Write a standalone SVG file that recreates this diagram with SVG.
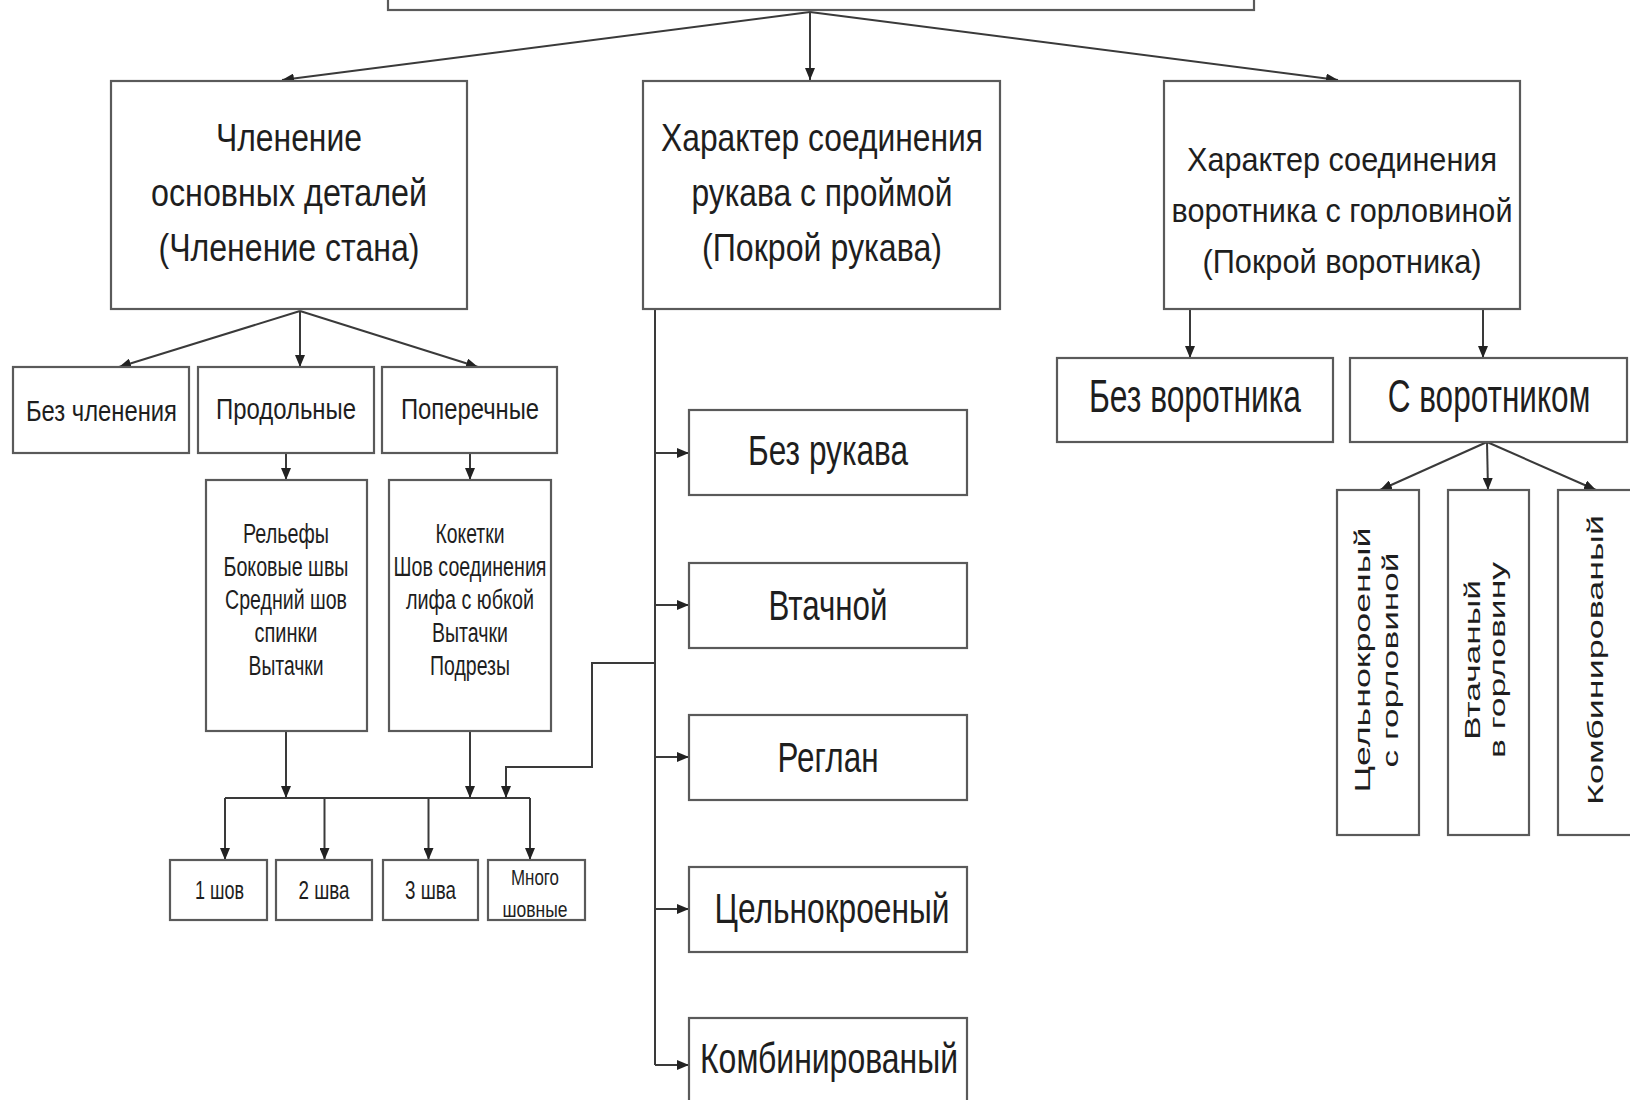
<svg xmlns="http://www.w3.org/2000/svg" width="1630" height="1100" viewBox="0 0 1630 1100">
<defs>
<marker id="ah" markerWidth="12" markerHeight="10" refX="12" refY="5" orient="auto" markerUnits="userSpaceOnUse"><path d="M0,0 L12,5 L0,10 z" fill="#222"/></marker>
<style>
.b{fill:#fff;stroke:#5a5a5a;stroke-width:2.2}
.c{fill:none;stroke:#3a3a3a;stroke-width:2}
.a{marker-end:url(#ah)}
text{font-family:"Liberation Sans",Arial,sans-serif;fill:#1e1e1e;text-anchor:middle}
.t1{font-size:39px}
.t3{font-size:34px}
.t2{font-size:30px}
.s{font-size:27px}
.m{font-size:25px}
.mm{font-size:22px}
.sl{font-size:43px}
.co{font-size:46px}
.r{font-size:22px}
</style>
</defs>
<rect width="1630" height="1100" fill="#fff"/>

<g id="connectors">
<path class="c a" d="M810,12 L282,80"/>
<path class="c a" d="M810,12 L810,80"/>
<path class="c a" d="M810,12 L1338,80"/>
<path class="c a" d="M300,311 L119,367"/>
<path class="c a" d="M300,311 L300,367"/>
<path class="c a" d="M300,311 L478,367"/>
<path class="c a" d="M286,453 L286,480"/>
<path class="c a" d="M470,453 L470,480"/>
<path class="c a" d="M286,731 L286,798"/>
<path class="c a" d="M470,731 L470,798"/>
<path class="c" d="M225,798 L530,798"/>
<path class="c a" d="M225,798 L225,860"/>
<path class="c a" d="M324.5,798 L324.5,860"/>
<path class="c a" d="M428.5,798 L428.5,860"/>
<path class="c a" d="M530,798 L530,860"/>
<path class="c" d="M655,309 L655,1065"/>
<path class="c a" d="M655,453 L689,453"/>
<path class="c a" d="M655,605 L689,605"/>
<path class="c a" d="M655,757 L689,757"/>
<path class="c a" d="M655,909 L689,909"/>
<path class="c a" d="M655,1065 L689,1065"/>
<path class="c a" d="M655,663 L592,663 L592,767 L506,767 L506,798"/>
<path class="c a" d="M1190,309 L1190,358"/>
<path class="c a" d="M1483,309 L1483,358"/>
<path class="c a" d="M1487,442 L1380,490"/>
<path class="c a" d="M1487,442 L1488,490"/>
<path class="c a" d="M1487,442 L1596,490"/>
</g>

<g id="top"><rect class="b" x="388" y="-60" width="866" height="70"/></g>

<g id="n-chlenenie">
<rect class="b" x="111" y="81" width="356" height="228"/>
<text class="t1" x="289" y="151" textLength="146" lengthAdjust="spacingAndGlyphs">Членение</text>
<text class="t1" x="289" y="206" textLength="276" lengthAdjust="spacingAndGlyphs">основных деталей</text>
<text class="t1" x="289" y="261" textLength="261" lengthAdjust="spacingAndGlyphs">(Членение стана)</text>
</g>

<g id="n-rukav">
<rect class="b" x="643" y="81" width="357" height="228"/>
<text class="t1" x="822" y="151" textLength="322" lengthAdjust="spacingAndGlyphs">Характер соединения</text>
<text class="t1" x="822" y="206" textLength="261" lengthAdjust="spacingAndGlyphs">рукава с проймой</text>
<text class="t1" x="822" y="261" textLength="240" lengthAdjust="spacingAndGlyphs">(Покрой рукава)</text>
</g>

<g id="n-vorotnik">
<rect class="b" x="1164" y="81" width="356" height="228"/>
<text class="t3" x="1342" y="171" textLength="310" lengthAdjust="spacingAndGlyphs">Характер соединения</text>
<text class="t3" x="1342" y="222" textLength="341" lengthAdjust="spacingAndGlyphs">воротника с горловиной</text>
<text class="t3" x="1342" y="273" textLength="279" lengthAdjust="spacingAndGlyphs">(Покрой воротника)</text>
</g>

<g id="n-bez-chlen">
<rect class="b" x="13" y="367" width="176" height="86"/>
<text class="t2" x="101.5" y="421" textLength="151" lengthAdjust="spacingAndGlyphs">Без членения</text>
</g>
<g id="n-prodol">
<rect class="b" x="198" y="367" width="176" height="86"/>
<text class="t2" x="286" y="419" textLength="140" lengthAdjust="spacingAndGlyphs">Продольные</text>
</g>
<g id="n-poper">
<rect class="b" x="382" y="367" width="175" height="86"/>
<text class="t2" x="470" y="419" textLength="138" lengthAdjust="spacingAndGlyphs">Поперечные</text>
</g>

<g id="n-relef">
<rect class="b" x="206" y="480" width="161" height="251"/>
<text class="s" x="286" y="543" textLength="86" lengthAdjust="spacingAndGlyphs">Рельефы</text>
<text class="s" x="286" y="576" textLength="125" lengthAdjust="spacingAndGlyphs">Боковые швы</text>
<text class="s" x="286" y="609" textLength="122" lengthAdjust="spacingAndGlyphs">Средний шов</text>
<text class="s" x="286" y="642" textLength="63" lengthAdjust="spacingAndGlyphs">спинки</text>
<text class="s" x="286" y="675" textLength="75" lengthAdjust="spacingAndGlyphs">Вытачки</text>
</g>
<g id="n-koketki">
<rect class="b" x="389" y="480" width="162" height="251"/>
<text class="s" x="470" y="543" textLength="69" lengthAdjust="spacingAndGlyphs">Кокетки</text>
<text class="s" x="470" y="576" textLength="153" lengthAdjust="spacingAndGlyphs">Шов соединения</text>
<text class="s" x="470" y="609" textLength="128" lengthAdjust="spacingAndGlyphs">лифа с юбкой</text>
<text class="s" x="470" y="642" textLength="76" lengthAdjust="spacingAndGlyphs">Вытачки</text>
<text class="s" x="470" y="675" textLength="80" lengthAdjust="spacingAndGlyphs">Подрезы</text>
</g>

<g id="n-1shov">
<rect class="b" x="170" y="860" width="97" height="60"/>
<text class="m" x="219.5" y="899" textLength="49" lengthAdjust="spacingAndGlyphs">1 шов</text>
</g>
<g id="n-2shva">
<rect class="b" x="276" y="860" width="96" height="60"/>
<text class="m" x="324" y="899" textLength="51" lengthAdjust="spacingAndGlyphs">2 шва</text>
</g>
<g id="n-3shva">
<rect class="b" x="383" y="860" width="95" height="60"/>
<text class="m" x="430.5" y="899" textLength="51" lengthAdjust="spacingAndGlyphs">3 шва</text>
</g>
<g id="n-mnogo">
<rect class="b" x="488" y="860" width="97" height="60"/>
<text class="mm" x="535" y="885" textLength="48" lengthAdjust="spacingAndGlyphs">Много</text>
<text class="mm" x="535" y="917" textLength="65" lengthAdjust="spacingAndGlyphs">шовные</text>
</g>

<g id="n-bez-rukava">
<rect class="b" x="689" y="410" width="278" height="85"/>
<text class="sl" x="828" y="465" textLength="160" lengthAdjust="spacingAndGlyphs">Без рукава</text>
</g>
<g id="n-vtachnoy">
<rect class="b" x="689" y="563" width="278" height="85"/>
<text class="sl" x="828" y="620" textLength="119" lengthAdjust="spacingAndGlyphs">Втачной</text>
</g>
<g id="n-reglan">
<rect class="b" x="689" y="715" width="278" height="85"/>
<text class="sl" x="828" y="772" textLength="101" lengthAdjust="spacingAndGlyphs">Реглан</text>
</g>
<g id="n-celnokr">
<rect class="b" x="689" y="867" width="278" height="85"/>
<text class="sl" x="832" y="923" textLength="235" lengthAdjust="spacingAndGlyphs">Цельнокроеный</text>
</g>
<g id="n-kombin">
<rect class="b" x="689" y="1018" width="278" height="100"/>
<text class="sl" x="829" y="1073" textLength="258" lengthAdjust="spacingAndGlyphs">Комбинированый</text>
</g>

<g id="n-bez-vorot">
<rect class="b" x="1057" y="358" width="276" height="84"/>
<text class="co" x="1195" y="412" textLength="212" lengthAdjust="spacingAndGlyphs">Без воротника</text>
</g>
<g id="n-s-vorot">
<rect class="b" x="1350" y="358" width="277" height="84"/>
<text class="co" transform="translate(1489,412) scale(0.66,1)" textLength="307" lengthAdjust="spacingAndGlyphs">С воротником</text>
</g>

<g id="n-v-celnokr">
<rect class="b" x="1337" y="490" width="82" height="345"/>
<text class="r" transform="translate(1370,660) rotate(-90)" textLength="265" lengthAdjust="spacingAndGlyphs">Цельнокроеный</text>
<text class="r" transform="translate(1398,660) rotate(-90)" textLength="215" lengthAdjust="spacingAndGlyphs">с горловиной</text>
</g>
<g id="n-v-vtach">
<rect class="b" x="1448" y="490" width="81" height="345"/>
<text class="r" transform="translate(1480,660) rotate(-90)" textLength="160" lengthAdjust="spacingAndGlyphs">Втачаный</text>
<text class="r" transform="translate(1505,660) rotate(-90)" textLength="196" lengthAdjust="spacingAndGlyphs">в горловину</text>
</g>
<g id="n-v-kombin">
<rect class="b" x="1558" y="490" width="90" height="345"/>
<text class="r" transform="translate(1603,660) rotate(-90)" textLength="290" lengthAdjust="spacingAndGlyphs">Комбинированый</text>
</g>
</svg>
